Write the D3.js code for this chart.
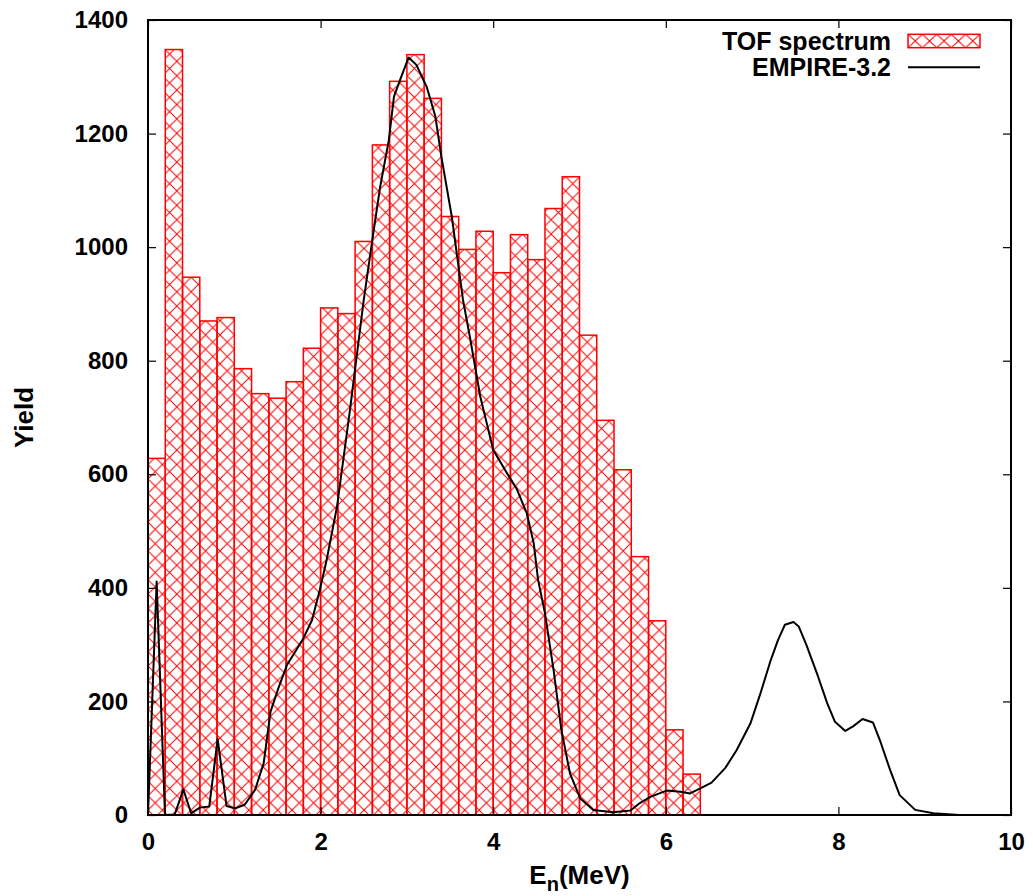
<!DOCTYPE html>
<html>
<head>
<meta charset="utf-8">
<script src="https://cdn.jsdelivr.net/npm/d3@7/dist/d3.min.js"></script>
<style>
  html, body { margin: 0; padding: 0; background: #fff; }
  svg text { font-family: "Liberation Sans", Arial, Helvetica, sans-serif; font-weight: bold; fill: #000; }
</style>
</head>
<body>
<svg id="chart" width="1033" height="896"></svg>
<script>
// TOF neutron spectrum: histogram bins of 0.2 MeV starting at 0 MeV
const binWidth = 0.2;
const tofYield = [628, 1348, 947, 870, 876, 786, 742, 734, 763, 822, 893, 883,
                  1010, 1180, 1292, 1339, 1262, 1054, 996, 1028, 955, 1022, 978,
                  1068, 1124, 845, 695, 608, 455, 342, 150, 72];

// EMPIRE-3.2 calculated spectrum (energy in MeV, yield)
const empireE = [0, 0.10, 0.197, 0.31, 0.41, 0.50, 0.60, 0.71, 0.807, 0.91, 1.01, 1.12,
                 1.24, 1.34, 1.42, 1.51, 1.61, 1.70, 1.80, 1.90, 1.99, 2.07, 2.19, 2.34,
                 2.50, 2.61, 2.69, 2.79, 2.85, 2.92, 3.02, 3.11, 3.23, 3.33, 3.40, 3.52,
                 3.65, 3.73, 3.85, 4.00, 4.16, 4.27, 4.39, 4.47, 4.52, 4.60, 4.70, 4.79,
                 4.89, 5.01, 5.16, 5.39, 5.59, 5.70, 5.82, 6.01, 6.17, 6.28, 6.40, 6.53,
                 6.69, 6.82, 6.98, 7.09, 7.21, 7.30, 7.38, 7.48, 7.54, 7.63, 7.75, 7.87,
                 7.96, 8.08, 8.17, 8.28, 8.40, 8.48, 8.60, 8.71, 8.89, 9.10, 9.40];
const empireY = [0, 411, 0, 1, 45, 3, 13, 15, 134, 16, 12, 18,
                 44, 91, 182, 223, 264, 286, 311, 343, 396, 449, 543, 713,
                 907, 1024, 1106, 1188, 1265, 1294, 1334, 1321, 1282, 1230, 1159, 1054,
                 907, 842, 737, 643, 602, 575, 531, 478, 414, 355, 255, 150,
                 73, 29, 9, 5, 8, 21, 32, 43, 41, 38, 47, 57,
                 83, 114, 161, 211, 270, 308, 335, 340, 332, 299, 250, 197,
                 164, 148, 156, 169, 163, 132, 79, 35, 9, 3, 0];

const xTicks = [0, 2, 4, 6, 8, 10];
const yTicks = [0, 200, 400, 600, 800, 1000, 1200, 1400];
const seriesNames = ["TOF spectrum", "EMPIRE-3.2"];

const svg = d3.select("#chart");
const plotLeft = 148, plotRight = 1011, plotTop = 20, plotBottom = 815;

const x = d3.scaleLinear().domain([0, 10]).range([plotLeft, plotRight]);
const y = d3.scaleLinear().domain([0, 1400]).range([plotBottom, plotTop]);

// Cross-hatch fill patterns
const defs = svg.append("defs");
const P = 14.4;
const hatch = defs.append("pattern")
  .attr("id", "hatch")
  .attr("patternUnits", "userSpaceOnUse")
  .attr("width", P).attr("height", P)
  .attr("x", plotLeft).attr("y", 457.3 - P / 2);
hatch.append("path")
  .attr("d", `M0,0L${P},${P}M0,${P}L${P},0`)
  .attr("stroke", "#ff0000").attr("stroke-width", 1).attr("fill", "none");

// Histogram bars
const bins = tofYield.map((v, i) => ({ x0: i * binWidth, x1: (i + 1) * binWidth, v }));
svg.append("g").selectAll("rect")
  .data(bins)
  .join("rect")
  .attr("x", d => x(d.x0))
  .attr("y", d => y(d.v))
  .attr("width", d => x(d.x1) - x(d.x0))
  .attr("height", d => y(0) - y(d.v))
  .attr("fill", "url(#hatch)")
  .attr("stroke", "#ff0000")
  .attr("stroke-width", 1.5);

// EMPIRE curve
const pts = empireE.map((e, i) => [e, empireY[i]]);
svg.append("path")
  .datum(pts)
  .attr("d", d3.line().x(d => x(d[0])).y(d => y(d[1])))
  .attr("fill", "none")
  .attr("stroke", "#000")
  .attr("stroke-width", 2)
  .attr("stroke-linejoin", "round");

// Axes with inward ticks, mirrored on top and right
const tickLen = 8;
const fmt = d3.format("d");
const xBottom = d3.axisBottom(x).tickValues(xTicks).tickFormat(fmt).tickSizeInner(-tickLen).tickSizeOuter(0).tickPadding(18);
const xTopAxis = d3.axisTop(x).tickValues(xTicks).tickSizeInner(-tickLen).tickSizeOuter(0).tickFormat("");
const yLeft = d3.axisLeft(y).tickValues(yTicks).tickFormat(fmt).tickSizeInner(-tickLen).tickSizeOuter(0).tickPadding(20);
const yRightAxis = d3.axisRight(y).tickValues(yTicks).tickSizeInner(-tickLen).tickSizeOuter(0).tickFormat("");

function styleAxis(g) {
  g.select(".domain").remove();
  g.selectAll(".tick line").attr("stroke", "#000").attr("stroke-width", 1.2);
  g.selectAll(".tick text").attr("font-size", 24).attr("fill", "#000")
    .style("font-family", "'Liberation Sans', Arial, sans-serif").style("font-weight", "bold");
}
svg.append("g").attr("transform", `translate(0,${plotBottom})`).call(xBottom).call(styleAxis);
svg.append("g").attr("transform", `translate(0,${plotTop})`).call(xTopAxis).call(styleAxis);
svg.append("g").attr("transform", `translate(${plotLeft},0)`).call(yLeft).call(styleAxis);
svg.append("g").attr("transform", `translate(${plotRight},0)`).call(yRightAxis).call(styleAxis);

// Frame
svg.append("rect")
  .attr("x", plotLeft).attr("y", plotTop)
  .attr("width", plotRight - plotLeft).attr("height", plotBottom - plotTop)
  .attr("fill", "none").attr("stroke", "#000").attr("stroke-width", 2);

// Axis titles
const xt = svg.append("text")
  .attr("x", (plotLeft + plotRight) / 2).attr("y", 884)
  .attr("text-anchor", "middle").attr("font-size", 26);
xt.append("tspan").text("E");
xt.append("tspan").attr("dy", 7).attr("font-size", 20).text("n");
xt.append("tspan").attr("dy", -7).text("(MeV)");

svg.append("text")
  .attr("transform", `translate(33,${(plotTop + plotBottom) / 2}) rotate(-90)`)
  .attr("text-anchor", "middle").attr("font-size", 26)
  .text("Yield");

// Legend
const legX = 891, sx0 = 908, sx1 = 980;
svg.append("text").attr("x", legX).attr("y", 50).attr("text-anchor", "end")
  .attr("font-size", 25).text(seriesNames[0]);
svg.append("text").attr("x", legX).attr("y", 76).attr("text-anchor", "end")
  .attr("font-size", 25).text(seriesNames[1]);

const boxTop = 34.3, boxH = 13.4, cw = (sx1 - sx0) / 5;
const legHatch = defs.append("pattern")
  .attr("id", "leghatch")
  .attr("patternUnits", "userSpaceOnUse")
  .attr("width", cw).attr("height", boxH)
  .attr("x", sx0).attr("y", boxTop);
legHatch.append("path")
  .attr("d", `M0,0L${cw},${boxH}M0,${boxH}L${cw},0`)
  .attr("stroke", "#ff0000").attr("stroke-width", 1).attr("fill", "none");
svg.append("rect")
  .attr("x", sx0).attr("y", boxTop).attr("width", sx1 - sx0).attr("height", boxH)
  .attr("fill", "url(#leghatch)").attr("stroke", "#ff0000").attr("stroke-width", 1.5);
svg.append("line")
  .attr("x1", sx0).attr("x2", sx1).attr("y1", 67.3).attr("y2", 67.3)
  .attr("stroke", "#000").attr("stroke-width", 2);
</script>
</body>
</html>
